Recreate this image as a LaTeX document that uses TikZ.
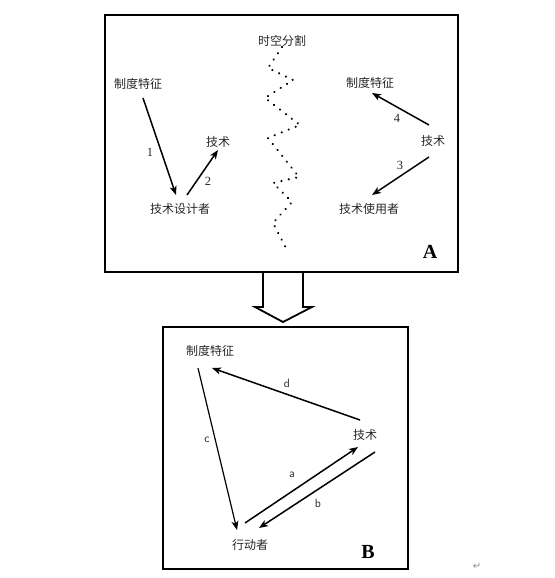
\documentclass[tikz,border=0pt]{standalone}
\usepackage{fontspec}
\setmainfont{Liberation Serif}
\newfontfamily\cjk{Noto Sans CJK SC}
\newfontfamily\symfont{DejaVu Sans}
\usetikzlibrary{arrows.meta,calc}

\begin{document}
\begin{tikzpicture}[x=1pt, y=-1pt, >={Stealth[length=9pt,width=7pt,inset=2.5pt]},
    zi/.style={font=\cjk\fontsize{12}{14}\selectfont, text=black!85, inner sep=1pt},
    num/.style={font=\fontsize{12.5}{13}\selectfont, text=black!85, inner sep=1pt},
    zimu/.style={font=\sffamily\fontsize{12}{13}\selectfont, text=black!85, inner sep=1pt},
    tag/.style={font=\bfseries\fontsize{20}{22}\selectfont, inner sep=0pt},
    jian/.style={->, line width=1.5pt}]
    \useasboundingbox (0,0) rectangle (554,578);
    % panel A
    \draw[line width=2pt] (105,15) rectangle (458,272);
    \node[zi] (fenge) at (282,41) {时空分割};
    \draw[line width=2.4pt, line cap=round, dash pattern=on 0.01pt off 7.5pt] plot coordinates {(282,47) (268,68) (293,80) (265,98) (300,125) (268,138) (299,177) (273,183) (292,202) (273,223) (286,248)};
    \node[zi] (zdA) at (138,84) {制度特征};
    \node[zi] (jsA) at (218,142) {技术};
    \node[zi] (sjz) at (180,209) {技术设计者};
    \node[zi] (zdR) at (370,83) {制度特征};
    \node[zi] (jsR) at (433,141) {技术};
    \node[zi] (syz) at (369,209) {技术使用者};
    \draw[jian] ($(zdA)+(5,14)$) -- ($(sjz)+(-4,-14)$);
    \draw[jian] ($(sjz)+(7,-14)$) -- ($(jsA)+(0,8)$);
    \draw[jian] ($(jsR)+(-4,-16)$) -- ($(zdR)+(2,10)$);
    \draw[jian] ($(jsR)+(-4,16)$) -- ($(syz)+(3,-14)$);
    \node[num] (n1) at (150,152) {1};
    \node[num] (n2) at (208,181) {2};
    \node[num] (n3) at (400,165) {3};
    \node[num] (n4) at (397,118) {4};
    \node[tag] (tagA) at (430,252) {A};
    % block arrow
    \draw[line width=1.8pt, line join=miter] (263,272) -- (263,307) -- (255,307) -- (283,322) -- (312,307) -- (303,307) -- (303,272);
    % panel B
    \draw[line width=2pt] (163,327) rectangle (408,569);
    \node[zi] (zdB) at (210,351) {制度特征};
    \node[zi] (jsB) at (365,435) {技术};
    \node[zi] (xdz) at (250,545) {行动者};
    \draw[jian] ($(jsB)+(-5,-15)$) -- ($(zdB)+(2,17)$);
    \draw[->, line width=1.2pt] ($(zdB)+(-12,17)$) -- ($(xdz)+(-13,-15)$);
    \draw[jian] ($(xdz)+(-5,-22)$) -- ($(jsB)+(-7,12)$);
    \draw[jian] ($(jsB)+(10,17)$) -- ($(xdz)+(9,-17)$);
    \node[zimu] (la) at (292,475) {a};
    \node[zimu] (lb) at (318,503) {b};
    \node[zimu] (lc) at (207,440) {c};
    \node[zimu] (ld) at (287,383) {d};
    \node[tag] (tagB) at (368,552) {B};
    \node[font=\symfont\fontsize{10}{11}\selectfont, text=black!45] (ret) at (477,566) {↵};
\end{tikzpicture}
\end{document}
